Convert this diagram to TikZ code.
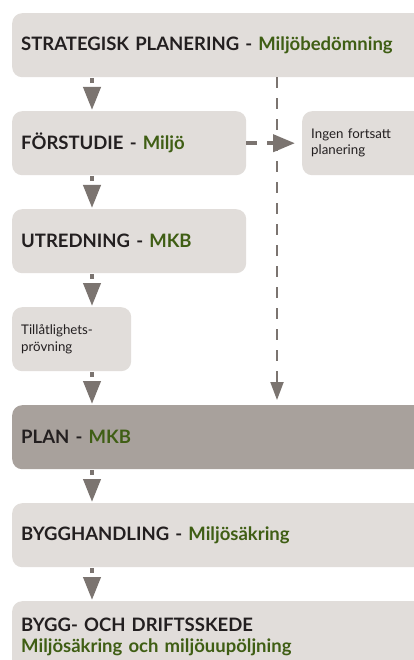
\documentclass[tikz,border=0pt]{standalone}
\usepackage{fontspec}
\setmainfont{Lato}
\usetikzlibrary{arrows.meta}
\definecolor{boxlight}{HTML}{E1DDDA}
\definecolor{boxdark}{HTML}{A8A19C}
\definecolor{arrowc}{HTML}{7B7470}
\definecolor{greentxt}{HTML}{3F5E14}
\definecolor{darktxt}{HTML}{231F20}
\tikzset{
  box/.style={fill=boxlight, rounded corners=10pt, anchor=north west, minimum height=64pt,
    inner xsep=9pt, inner ysep=0pt, align=left, text=darktxt, font=\fontsize{18.5}{21.5}\selectfont\bfseries},
  smallbox/.style={box, font=\fontsize{13.3}{17}\selectfont},
  flow/.style={draw=arrowc, line width=4pt, dash pattern=on 5pt off 40pt,
    -{Triangle[width=17pt,length=23pt]}},
  hflow/.style={draw=arrowc, line width=4pt, dash pattern=on 11pt off 10pt,
    -{Triangle[width=17pt,length=22pt]}},
  vdash/.style={draw=arrowc, line width=2pt, dash pattern=on 11pt off 10pt,
    -{Triangle[width=13pt,length=18pt]}}
}
\newcommand{\gr}[1]{\textcolor{greentxt}{#1}}
\begin{document}
\begin{tikzpicture}[x=1pt,y=-1pt]
\clip (0,0) rectangle (414,660);
\fill[white] (0,0) rectangle (414,660);
\node[box, text width=412pt] (s) at (12,13) {STRATEGISK PLANERING - \gr{Miljöbedömning}};
\node[box, text width=216pt] (f) at (12,111) {FÖRSTUDIE - \gr{Miljö}};
\node[smallbox, text width=112pt, font=\fontsize{13.3}{16}\selectfont] (i) at (302,111) {Ingen fortsatt\\planering};
\node[box, text width=216pt] (u) at (12,209) {UTREDNING - \gr{MKB}};
\node[smallbox, text width=101pt] (t) at (12,307) {Tillåtlighets-\\prövning};
\node[box, fill=boxdark, text width=412pt] (p) at (12,405) {PLAN - \gr{MKB}};
\node[box, text width=412pt] (b) at (12,503) {BYGGHANDLING - \gr{Miljösäkring}};
\node[box, text width=412pt, minimum height=71pt] (d) at (12,601) {BYGG- OCH DRIFTSSKEDE\\\gr{Miljösäkring och miljöuupöljning}};
\foreach \a/\b in {s/f, f/u, u/t, t/p, p/b, b/d}{
  \draw[flow] ([xshift=80pt,yshift=-1pt]\a.south west) -- ([xshift=80pt,yshift=1pt]\b.north west);
}
\draw[hflow] (f.east) -- ([xshift=-7pt]i.west);
\coordinate (vs) at ([xshift=265pt]s.south west);
\coordinate (ve) at ([xshift=265pt,yshift=5pt]p.north west);
\draw[vdash] (vs) -- (ve);
\end{tikzpicture}
\end{document}
